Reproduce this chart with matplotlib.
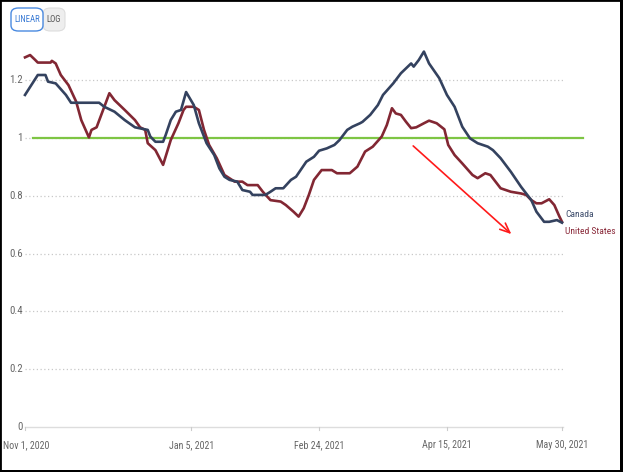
import matplotlib
matplotlib.use("Agg")
import matplotlib.pyplot as plt
from matplotlib import font_manager
from matplotlib.patches import FancyBboxPatch, Rectangle

# ---------------- data ----------------
# days since Nov 1, 2020
canada_days = [0, 5, 8, 9, 12, 16, 18, 29, 31, 35, 39, 43, 48, 49, 51, 54, 55, 57, 59, 61,
               63, 66, 68, 71, 74, 76, 78, 80, 83, 85, 88, 89, 94, 96, 98, 101, 104, 106,
               110, 113, 115, 118, 121, 123, 126, 128, 131, 132, 135, 138, 140, 144, 147,
               151, 152, 154, 156, 158, 162, 165, 168, 171, 174, 177, 181, 183, 186, 190,
               194, 198, 200, 203, 205, 208, 210]
canada_vals = [1.149, 1.218, 1.218, 1.195, 1.189, 1.149, 1.122, 1.122, 1.108, 1.091, 1.062,
               1.037, 1.028, 1.005, 0.987, 0.987, 1.010, 1.062, 1.091, 1.097, 1.159, 1.114,
               1.051, 0.982, 0.941, 0.895, 0.866, 0.855, 0.849, 0.820, 0.814, 0.803, 0.803,
               0.814, 0.826, 0.826, 0.855, 0.866, 0.918, 0.935, 0.956, 0.964, 0.976, 0.993,
               1.028, 1.039, 1.051, 1.056, 1.080, 1.114, 1.149, 1.189, 1.224, 1.258, 1.247,
               1.270, 1.299, 1.258, 1.207, 1.149, 1.108, 1.039, 0.999, 0.982, 0.970, 0.958,
               0.930, 0.883, 0.831, 0.785, 0.745, 0.710, 0.710, 0.716, 0.707]

us_days = [0, 2, 4, 5, 10, 10.5, 12, 14, 17, 20, 22, 25, 26, 28, 33, 35, 39, 43, 45, 47, 48,
           51, 54, 57, 60, 62, 63, 66, 68, 70, 72, 75, 78, 82, 85, 87, 91, 93, 96, 100, 102,
           105, 107, 109, 111, 113, 116, 120, 122, 127, 130, 133, 136, 139.5, 141.5, 143.5,
           145, 147, 149, 151, 153, 156, 158, 161, 164, 165.5, 168, 171, 175, 177, 180, 182,
           184, 186, 190, 194, 196, 198, 200, 202, 205, 207, 209, 210]
us_vals = [1.279, 1.287, 1.270, 1.261, 1.261, 1.267, 1.258, 1.218, 1.183, 1.126, 1.062, 1.002,
           1.028, 1.037, 1.155, 1.131, 1.097, 1.062, 1.037, 1.028, 0.982, 0.958, 0.907, 0.993,
           1.051, 1.097, 1.108, 1.108, 1.097, 1.028, 0.976, 0.930, 0.872, 0.849, 0.849, 0.837,
           0.837, 0.814, 0.785, 0.780, 0.768, 0.745, 0.728, 0.757, 0.803, 0.855, 0.889, 0.889,
           0.878, 0.878, 0.901, 0.953, 0.970, 1.005, 1.045, 1.103, 1.085, 1.080, 1.056, 1.034,
           1.037, 1.051, 1.060, 1.051, 1.030, 0.976, 0.941, 0.912, 0.872, 0.861, 0.878, 0.872,
           0.849, 0.826, 0.814, 0.808, 0.803, 0.785, 0.774, 0.774, 0.788, 0.768, 0.728, 0.710]

tick_days = [0, 65, 115, 165, 210]
tick_labels = ["Nov 1, 2020", "Jan 5, 2021", "Feb 24, 2021", "Apr 15, 2021", "May 30, 2021"]
y_ticks = [0, 0.2, 0.4, 0.6, 0.8, 1.0, 1.2]
y_labels = ["0", "0.2", "0.4", "0.6", "0.8", "1", "1.2"]
series_names = ["Canada", "United States"]
threshold = 1.0
arrow_start = (151, 0.979)
arrow_end = (191, 0.661)

# ---------------- fonts ----------------
def pick_font():
    """Prefer a narrow/condensed installed face; fall back to Lato."""
    cond = ("condensed", "semi-condensed", "extra-condensed", "ultra-condensed")
    best = None
    for e in font_manager.fontManager.ttflist:
        nm = e.name
        if e.style != "normal" or e.weight not in (400, "normal", "regular"):
            continue
        if "Narrow" in nm or "Condensed" in nm or str(e.stretch) in cond:
            if "Mono" in nm or "Serif" in nm:
                continue
            rank = 0 if "Liberation" in nm else (1 if "Roboto" in nm else 2)
            if best is None or rank < best[0]:
                best = (rank, e.fname)
    if best is not None:
        return font_manager.FontProperties(fname=best[1]), True
    return font_manager.FontProperties(family=["Lato", "DejaVu Sans"]), False

FP, NARROW = pick_font()
FS = 7.2 if NARROW else 6.0
FS_LEG = 6.8 if NARROW else 5.6

def txt(target, x, y, s, size=None, **kw):
    fp = FP.copy()
    fp.set_size(size if size is not None else FS)
    return target.text(x, y, s, fontproperties=fp, **kw)

# ---------------- figure ----------------
W, H = 623, 472
fig = plt.figure(figsize=(W / 100, H / 100), dpi=100)
fig.patch.set_facecolor("white")

x0_px, x1_px = 25, 562
y0_px = 427
px_per_unit = 289.0
ytop = 1.35
ax = fig.add_axes([x0_px / W, (H - y0_px) / H, (x1_px - x0_px) / W, ytop * px_per_unit / H])
ax.set_xlim(0, 210)
ax.set_ylim(0, ytop)
ax.set_axis_off()

CAN = "#34425f"
USC = "#822733"
GRID = "#c8c8c8"
LBL = "#666666"

# grid lines (dotted)
for v in y_ticks[1:]:
    ax.plot([0, 210.5], [v, v], color=GRID, lw=0.9, ls=(0, (1, 2)), zorder=1, clip_on=False)
# axis line
ax.plot([0, 210.5], [0, 0], color="#dddddd", lw=1.0, zorder=1, clip_on=False)
for d in tick_days:
    ax.plot([d, d], [0, -0.012], color="#cccccc", lw=0.8, clip_on=False)

# y labels
for v, s in zip(y_ticks, y_labels):
    txt(ax, -0.9, v, s, size=FS + 0.6, ha="right", va="center", color=LBL, clip_on=False)

# x labels
for d, s in zip(tick_days, tick_labels):
    xx = d if d != 0 else 0.3
    txt(ax, xx, -0.062, s, ha="center", va="center", color=LBL, clip_on=False)

# threshold line
ax.plot([3.1, 218.2], [threshold, threshold], color="#7ec544", lw=1.6, zorder=2, clip_on=False)

# series
ax.plot(us_days, us_vals, color=USC, lw=1.9, zorder=3, clip_on=False)
ax.plot(canada_days, canada_vals, color=CAN, lw=1.9, zorder=4, clip_on=False)

# series labels
txt(ax, 211.3, 0.737, series_names[0], size=FS_LEG, ha="left", va="center", color="#3e4d6c", clip_on=False)
txt(ax, 211.3, 0.678, series_names[1], size=FS_LEG, ha="left", va="center", color="#8a2a3a", clip_on=False)

# arrow
ax.annotate("", xy=arrow_end, xytext=arrow_start,
            arrowprops=dict(arrowstyle="->,head_length=0.7,head_width=0.3", color="#ff1a1a", lw=1.2),
            zorder=5)

# buttons
def fx(px):
    return px / W

def fy(py):
    return 1 - py / H

b1 = FancyBboxPatch((fx(11), fy(31)), fx(32), 23 / H, boxstyle="round,pad=0,rounding_size=0.012",
                    transform=fig.transFigure, facecolor="white", edgecolor="#4a8ae0", lw=1.0)
b2 = FancyBboxPatch((fx(43), fy(31)), fx(22), 23 / H, boxstyle="round,pad=0,rounding_size=0.012",
                    transform=fig.transFigure, facecolor="#eeeeee", edgecolor="#dddddd", lw=0.8)
fig.add_artist(b2)
fig.add_artist(b1)
bsz = 6.3 if NARROW else 5.0
txt(fig, fx(27), fy(19.5), "LINEAR", size=bsz, ha="center", va="center", color="#3a7bd5")
txt(fig, fx(54), fy(19.5), "LOG", size=bsz, ha="center", va="center", color="#555555")

# outer black frame
fig.add_artist(Rectangle((0, 0), 1, 1, transform=fig.transFigure, fill=False,
                         edgecolor="black", lw=2.0))
fig.add_artist(Rectangle((fx(619.5), 0), fx(3.5), 1, transform=fig.transFigure,
                         facecolor="black", edgecolor="none"))
fig.add_artist(Rectangle((0, 0), 1, 2.5 / H, transform=fig.transFigure,
                         facecolor="black", edgecolor="none"))

fig.savefig("out.png", dpi=100)
